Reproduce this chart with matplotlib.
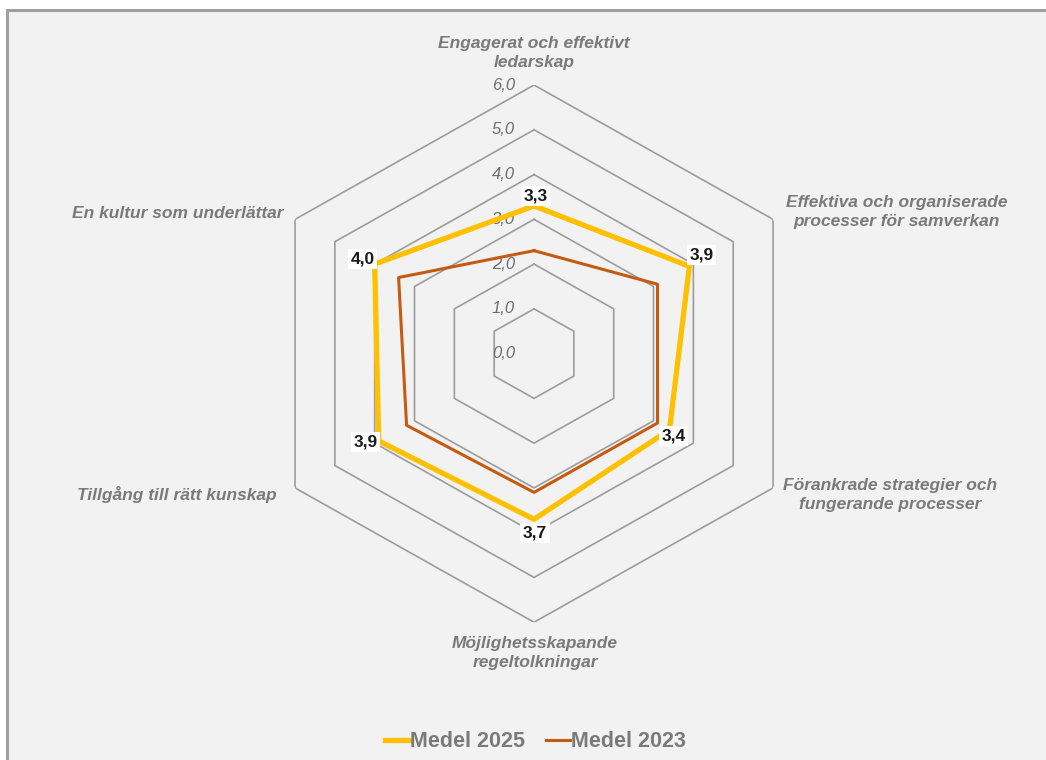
import numpy as np
import matplotlib
matplotlib.use("Agg")
from matplotlib import pyplot as plt
from matplotlib.patches import Rectangle

plt.rcParams['font.family'] = ['Liberation Sans', 'DejaVu Sans']

# data
kategorier = ['Engagerat och effektivt\nledarskap',
              'Effektiva och organiserade\nprocesser för samverkan',
              'Förankrade strategier och\nfungerande processer',
              'Möjlighetsskapande\nregeltolkningar',
              'Tillgång till rätt kunskap',
              'En kultur som underlättar']
medel_2025 = [3.3, 3.9, 3.4, 3.7, 3.9, 4.0]
medel_2023 = [2.3, 3.1, 3.1, 3.1, 3.2, 3.4]
skala = [0, 1, 2, 3, 4, 5, 6]

gul = '#FFC000'
brun = '#C55A11'
gra_text = '#7a7a7a'

n = len(kategorier)
vinklar = np.arange(n) * 2 * np.pi / n
vinklar_slutna = np.append(vinklar, vinklar[0])

def slut(v):
    return list(v) + [v[0]]

fig = plt.figure(figsize=(10.46, 7.6), dpi=100)
fig.patch.set_facecolor('white')
# chart area frame (cropped at right/bottom)
fig.patches.append(Rectangle((7/1046, -0.05), 1.1, (760-10)/760 + 0.05,
                             transform=fig.transFigure, facecolor='#f2f2f2',
                             edgecolor='#a0a0a0', lw=2.2, zorder=-5))

ax = fig.add_axes([0.2467, 0.1813, 0.5277, 0.7068], projection='polar')
ax.set_aspect('auto')
ax.set_theta_offset(np.pi/2)
ax.set_theta_direction(-1)
ax.set_ylim(0, 6)
ax.set_xticks([])
ax.set_yticks([])
ax.grid(False)
ax.spines['polar'].set_visible(False)
ax.patch.set_alpha(0)

# hexagonal rings
for r in skala[1:]:
    ax.plot(vinklar_slutna, [r]*(n+1), color='#9c9c9c', lw=1.2, zorder=1)

# scale labels
for r in skala:
    ax.annotate(f'{r:.1f}'.replace('.', ','), xy=(0, r), xytext=(-19, 0),
                textcoords='offset pixels', ha='right', va='center',
                fontsize=12, style='italic', color='#6e6e6e', zorder=1)

# series
ax.plot(vinklar_slutna, slut(medel_2023), color=brun, lw=2.2, zorder=3,
        label='Medel 2023')
ax.plot(vinklar_slutna, slut(medel_2025), color=gul, lw=3.8, zorder=4,
        label='Medel 2025')

# data labels for 2025
etikett_offset = [(2, 10), (12, 11), (4, -6), (1, -14), (-13, -1), (-12, 5)]
for vin, val, off in zip(vinklar, medel_2025, etikett_offset):
    ax.annotate(f'{val:.1f}'.replace('.', ','), xy=(vin, val), xytext=off,
                textcoords='offset pixels', ha='center', va='center',
                fontsize=12.5, fontweight='bold', color='#1a1a1a', zorder=6,
                bbox=dict(boxstyle='square,pad=0.15', fc='white', ec='none'))

# category labels
kat_pos = [((0, 32), 'center'), ((13, 7), 'left'), ((10, -7), 'left'),
           ((1, -31), 'center'), ((-18, -7), 'right'), ((-12, 6), 'right')]
for vin, txt, (off, ha) in zip(vinklar, kategorier, kat_pos):
    ax.annotate(txt, xy=(vin, 6), xytext=off, textcoords='offset pixels',
                ha=ha, va='center', multialignment='center', linespacing=1.35,
                fontsize=12.5, fontweight='bold', style='italic', color=gra_text)

handles, labels = ax.get_legend_handles_labels()
leg = fig.legend(handles[::-1], labels[::-1], loc='center',
                 bbox_to_anchor=(0.512, 0.0237), ncol=2, frameon=False,
                 handlelength=1.1, handletextpad=0.05, columnspacing=1.0,
                 prop={'size': 15.5, 'weight': 'bold'})
for t in leg.get_texts():
    t.set_color(gra_text)

fig.savefig('out.png', dpi=100, facecolor=fig.get_facecolor())
